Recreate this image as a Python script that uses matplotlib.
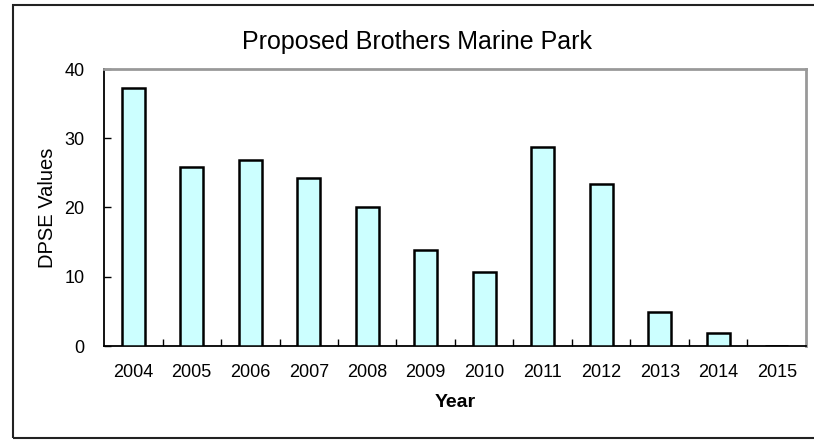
import numpy as np
import matplotlib.pyplot as plt
from matplotlib.patches import Rectangle

years = ['2004', '2005', '2006', '2007', '2008', '2009',
         '2010', '2011', '2012', '2013', '2014', '2015']
dpse = [37.3, 25.8, 26.8, 24.3, 20.1, 13.9, 10.7, 28.7, 23.4, 4.9, 1.9, 0.0]
yticks = [0, 10, 20, 30, 40]

plt.rcParams['font.family'] = ['Liberation Sans', 'DejaVu Sans']

fig = plt.figure(figsize=(8.14, 4.4), dpi=100)
ax = fig.add_axes([104 / 814, 1 - 346 / 440, (806 - 104) / 814, (346 - 69) / 440])

x = np.arange(len(years))
ax.bar(x, dpse, width=0.4, color='#ccffff', edgecolor='black', linewidth=1.8, zorder=3)

ax.set_xlim(-0.5, len(years) - 0.5)
ax.set_ylim(0, 40)
ax.set_yticks(yticks)
ax.set_xticks(x)
ax.set_xticklabels(years)
ax.set_xticks(np.arange(0.5, len(years) - 1, 1), minor=True)

ax.tick_params(axis='x', which='major', length=0, pad=13, labelsize=13)
ax.tick_params(axis='x', which='minor', direction='in', length=5, width=1, color='black')
ax.tick_params(axis='y', direction='in', length=5, width=1, pad=14, labelsize=13)

for side in ['left', 'bottom']:
    ax.spines[side].set_color('black')
    ax.spines[side].set_linewidth(1.3)
for side in ['top', 'right']:
    ax.spines[side].set_color('#999999')
    ax.spines[side].set_linewidth(2)

ax.set_ylabel('DPSE Values', fontsize=14.5, labelpad=5)
ax.set_xlabel('Year', fontsize=14, fontweight='bold', labelpad=9)

fig.text(417 / 814, 1 - 42 / 440, 'Proposed Brothers Marine Park',
         fontsize=18, ha='center', va='center')

# frame around the whole chart, open on the right
fig.patches.append(Rectangle((13 / 814, 2 / 440), 1.0, 433 / 440,
                             transform=fig.transFigure, fill=False,
                             edgecolor='#222222', linewidth=1.5))

fig.savefig('out.png', dpi=100)
